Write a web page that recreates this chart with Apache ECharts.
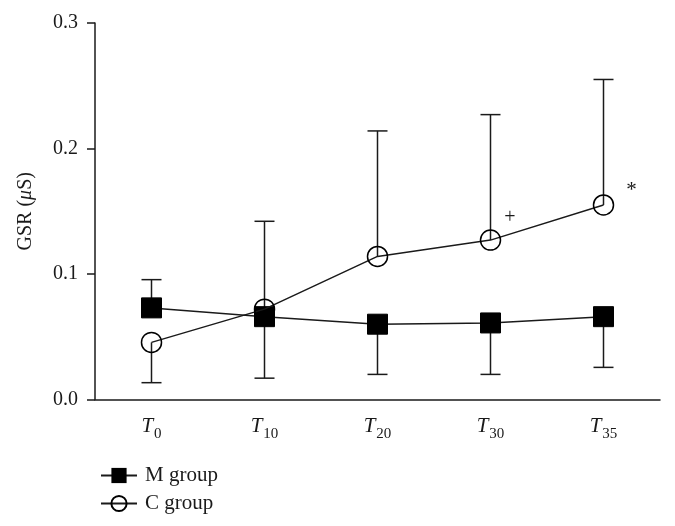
<!DOCTYPE html>
<html>
<head>
<meta charset="utf-8">
<script src="https://cdn.jsdelivr.net/npm/echarts@6/dist/echarts.min.js"></script>
<style>html,body{margin:0;padding:0;background:#fff}#c{width:675px;height:526px}</style>
</head>
<body>
<div id="c"></div>
<script>
var categories = ['0', '10', '20', '30', '35'];
var mMean = [0.073, 0.066, 0.060, 0.061, 0.066];
var mErrEnd = [0.0955, 0.017, 0.020, 0.020, 0.0256];
var cMean = [0.0455, 0.072, 0.114, 0.127, 0.155];
var cErrEnd = [0.0134, 0.142, 0.214, 0.227, 0.255];
var cMarks = ['', '', '', '+', '*'];
var yTicks = [0, 0.1, 0.2, 0.3];

var FONT = 'Liberation Serif';
var INK = '#1a1a1a';

function errSeries(name, means, ends) {
  return {
    type: 'custom',
    name: name + ' err',
    silent: true,
    z: 1,
    data: means.map(function (m, i) { return [i, m, ends[i]]; }),
    renderItem: function (params, api) {
      var p0 = api.coord([api.value(0), api.value(1)]);
      var p1 = api.coord([api.value(0), api.value(2)]);
      var hw = 10;
      var st = { stroke: INK, lineWidth: 1.5 };
      return {
        type: 'group',
        children: [
          { type: 'line', shape: { x1: p0[0], y1: p0[1], x2: p1[0], y2: p1[1] }, style: st },
          { type: 'line', shape: { x1: p1[0] - hw, y1: p1[1], x2: p1[0] + hw, y2: p1[1] }, style: st }
        ]
      };
    }
  };
}

var chart = echarts.init(document.getElementById('c'));
chart.setOption({
  animation: false,
  backgroundColor: '#fff',
  grid: { left: 95, right: 15, top: 23, bottom: 126.5 },
  xAxis: {
    type: 'category',
    data: categories,
    boundaryGap: true,
    axisLine: { lineStyle: { color: INK, width: 1.5 } },
    axisTick: { alignWithLabel: true, length: 7, lineStyle: { color: INK, width: 1.5 } },
    axisLabel: {
      margin: 16,
      formatter: function (v) { return '{t|T}{s|' + v + '}'; },
      rich: {
        t: { fontFamily: FONT, fontStyle: 'italic', fontSize: 21, color: INK, verticalAlign: 'top' },
        s: { fontFamily: FONT, fontSize: 15, color: INK, padding: [11, 0, 0, 1], verticalAlign: 'top' }
      }
    }
  },
  yAxis: {
    type: 'value',
    min: yTicks[0],
    max: yTicks[yTicks.length - 1],
    interval: 0.1,
    splitLine: { show: false },
    axisLine: { show: true, lineStyle: { color: INK, width: 1.5 } },
    axisTick: { show: true, length: 8, lineStyle: { color: INK, width: 1.5 } },
    axisLabel: {
      margin: 17,
      fontFamily: FONT, fontSize: 20, color: INK,
      formatter: function (v) { return v.toFixed(1); }
    },
    name: '{a|GSR (}{b|μ}{a|S)}',
    nameLocation: 'middle',
    nameGap: 59,
    nameRotate: 90,
    nameTextStyle: {
      rich: {
        a: { fontFamily: FONT, fontSize: 20, color: INK },
        b: { fontFamily: FONT, fontSize: 20, color: INK, fontStyle: 'italic' }
      }
    }
  },
  legend: {
    orient: 'vertical',
    left: 95,
    top: 460,
    itemWidth: 36,
    itemHeight: 19,
    itemGap: 7,
    data: ['M group', 'C group'],
    textStyle: { fontFamily: FONT, fontSize: 21, color: INK, padding: [0, 0, 0, 3] }
  },
  series: [
    errSeries('M group', mMean, mErrEnd),
    errSeries('C group', cMean, cErrEnd),
    {
      name: 'M group',
      type: 'line',
      z: 3,
      data: mMean,
      symbol: 'rect',
      symbolSize: 20,
      itemStyle: { color: '#000', borderColor: '#000' },
      lineStyle: { color: INK, width: 1.5 }
    },
    {
      name: 'C group',
      type: 'line',
      z: 4,
      data: cMean.map(function (v, i) {
        return {
          value: v,
          label: {
            show: cMarks[i] !== '',
            formatter: cMarks[i],
            position: 'right',
            offset: cMarks[i] === '*' ? [7, -14] : [-2, -22],
            fontFamily: FONT,
            fontSize: cMarks[i] === '*' ? 21 : 20,
            color: INK
          }
        };
      }),
      symbol: 'circle',
      symbolSize: 20,
      itemStyle: { color: 'rgba(255,255,255,0)', borderColor: '#000', borderWidth: 1.5 },
      lineStyle: { color: INK, width: 1.5 }
    }
  ]
});
</script>
</body>
</html>
